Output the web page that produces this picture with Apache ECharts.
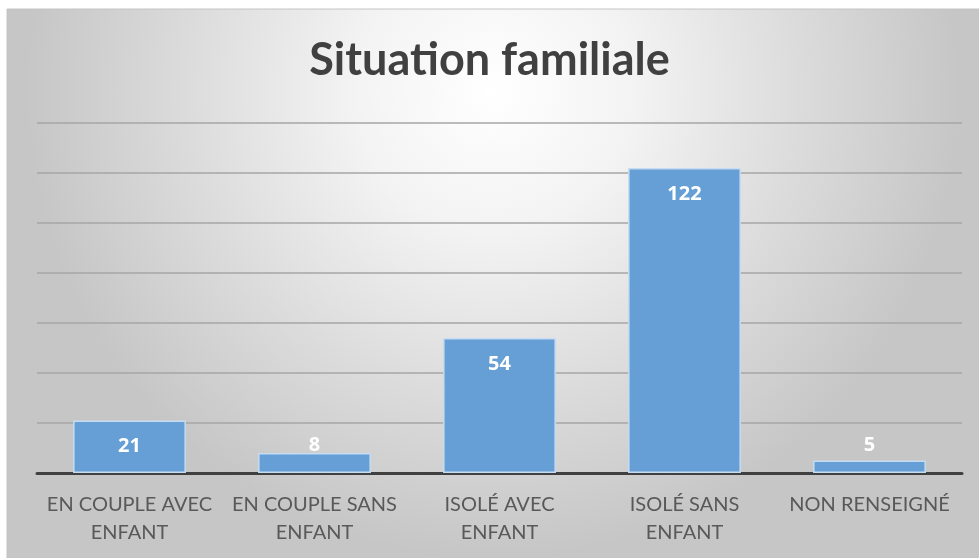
<!DOCTYPE html>
<html>
<head>
<meta charset="utf-8">
<script src="https://cdn.jsdelivr.net/npm/echarts@6/dist/echarts.min.js"></script>
<style>
  html, body { margin: 0; padding: 0; background: #fff; }
  #chart { width: 979px; height: 558px; }
</style>
</head>
<body>
<div id="chart"></div>
<script>
const categories = ['EN COUPLE AVEC\nENFANT', 'EN COUPLE SANS\nENFANT', 'ISOLÉ AVEC\nENFANT', 'ISOLÉ SANS\nENFANT', 'NON RENSEIGNÉ'];
const values = [21, 8, 54, 122, 5];
const chartTitle = 'Situation familiale';

const chart = echarts.init(document.getElementById('chart'));

// petites barres : étiquette posée au-dessus, comme dans Excel
const barData = values.map((v) => ({
    value: v,
    label: v < 15 ? { position: 'insideBottom', distance: 18 } : { position: 'insideTop', distance: 16 }
}));

const options = {
    backgroundColor: '#ffffff',
    graphic: [{
        type: 'rect',
        z: -10,
        silent: true,
        shape: { x: 7, y: 9, width: 972, height: 549 },
        style: {
            fill: {
                type: 'radial', x: 0.5, y: 0.15, r: 0.85,
                colorStops: [
                    { offset: 0, color: '#ffffff' },
                    { offset: 0.3, color: '#f3f3f3' },
                    { offset: 0.65, color: '#dcdcdc' },
                    { offset: 1, color: '#c6c6c6' }
                ]
            },
            stroke: '#c4c4c4',
            lineWidth: 1
        }
    }],
    title: {
        text: chartTitle,
        left: 'center',
        top: 33,
        textStyle: { fontFamily: 'Lato', fontSize: 45, fontWeight: 'bold', color: '#404040' }
    },
    grid: { left: 37, right: 17, top: 123, bottom: 85 },
    xAxis: {
        type: 'category',
        data: categories,
        axisTick: { show: false },
        axisLine: { lineStyle: { color: '#404040', width: 3 } },
        axisLabel: {
            interval: 0,
            margin: 18,
            fontFamily: 'Lato',
            fontSize: 20,
            lineHeight: 28,
            color: '#595959'
        }
    },
    yAxis: {
        type: 'value',
        min: 0,
        max: 140,
        interval: 20,
        axisLabel: { show: false },
        axisLine: { show: false },
        axisTick: { show: false },
        splitLine: { lineStyle: { color: '#a6a6a6', width: 1.5 } }
    },
    series: [{
        type: 'bar',
        barWidth: '61%',
        data: barData,
        itemStyle: { color: '#659fd6', borderColor: '#c5dcf2', borderWidth: 1.5 },
        label: {
            show: true,
            fontFamily: 'Open Sans',
            fontSize: 20,
            fontWeight: 'bold',
            color: '#ffffff'
        }
    }]
};

chart.setOption(options);
</script>
</body>
</html>
